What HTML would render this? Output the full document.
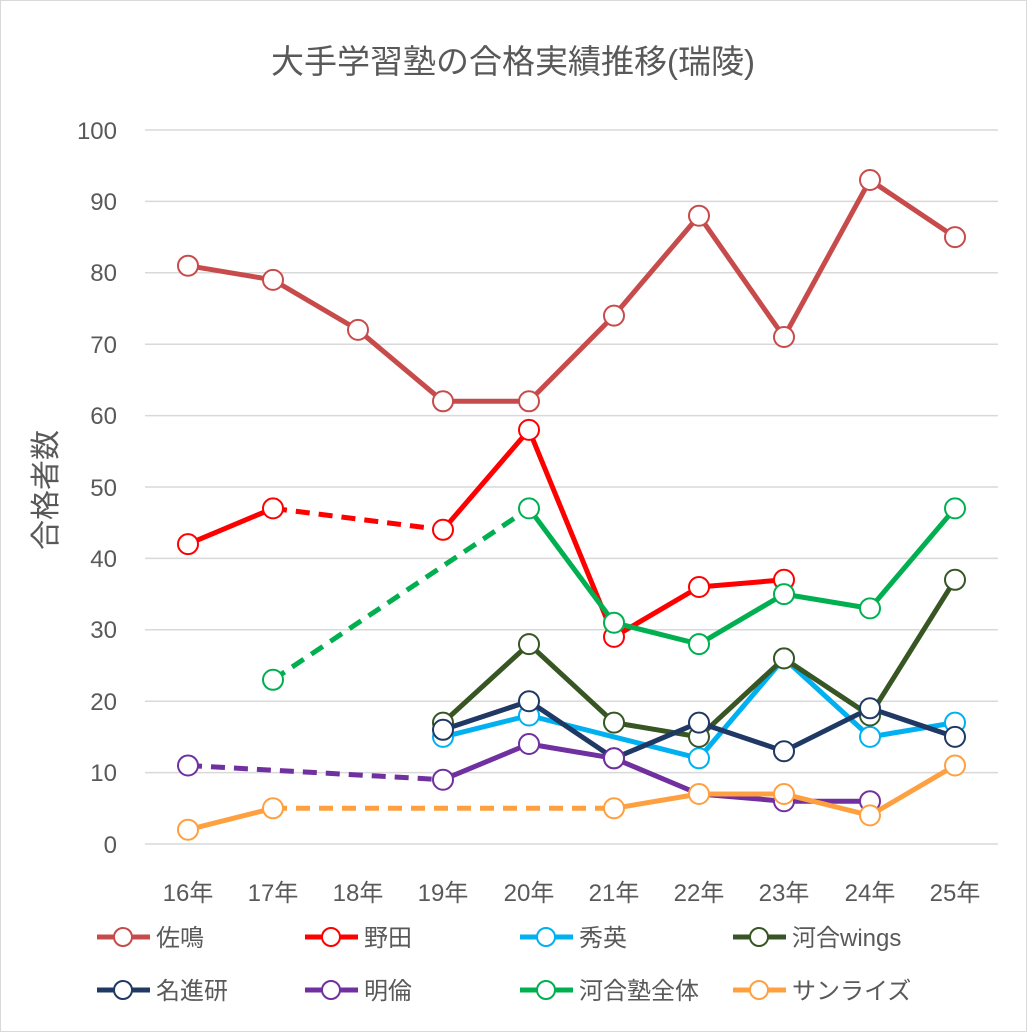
<!DOCTYPE html>
<html><head><meta charset="utf-8"><style>
html,body{margin:0;padding:0;background:#fff}
svg{display:block}
text{font-family:"Liberation Sans","Noto Sans CJK JP",sans-serif;fill:#595959}
</style></head><body>
<svg width="1027" height="1032" viewBox="0 0 1027 1032" xmlns="http://www.w3.org/2000/svg">
<rect x="0.5" y="0.5" width="1026" height="1031" fill="#fff" stroke="#d9d9d9"/>
<text x="513" y="73" font-size="33" text-anchor="middle">大手学習塾の合格実績推移(瑞陵)</text>
<g stroke="#d9d9d9" stroke-width="1.5">
<line x1="145" x2="998" y1="130" y2="130"/><line x1="145" x2="998" y1="201.4" y2="201.4"/>
<line x1="145" x2="998" y1="272.8" y2="272.8"/><line x1="145" x2="998" y1="344.2" y2="344.2"/>
<line x1="145" x2="998" y1="415.6" y2="415.6"/><line x1="145" x2="998" y1="487" y2="487"/>
<line x1="145" x2="998" y1="558.4" y2="558.4"/><line x1="145" x2="998" y1="629.8" y2="629.8"/>
<line x1="145" x2="998" y1="701.2" y2="701.2"/><line x1="145" x2="998" y1="772.6" y2="772.6"/>
<line x1="145" x2="998" y1="844" y2="844"/>
</g>
<g font-size="24" text-anchor="end">
<text x="117" y="139">100</text><text x="117" y="210">90</text><text x="117" y="281">80</text>
<text x="117" y="353">70</text><text x="117" y="424">60</text><text x="117" y="496">50</text>
<text x="117" y="567">40</text><text x="117" y="638">30</text><text x="117" y="710">20</text>
<text x="117" y="781">10</text><text x="117" y="853">0</text>
</g>
<text transform="translate(56,490) rotate(-90)" font-size="30" text-anchor="middle">合格者数</text>
<g font-size="24" text-anchor="middle">
<text x="188" y="901">16年</text><text x="273" y="901">17年</text><text x="358" y="901">18年</text>
<text x="443" y="901">19年</text><text x="529" y="901">20年</text><text x="614" y="901">21年</text>
<text x="699" y="901">22年</text><text x="784" y="901">23年</text><text x="870" y="901">24年</text>
<text x="955" y="901">25年</text>
</g>
<g stroke-linejoin="round">
<!-- 佐鳴 -->
<polyline fill="none" stroke-width="5" stroke="#c84b4b" points="188,265.7 273,279.9 358,329.9 443,401.3 529,401.3 614,315.6 699,215.7 784,337 870,180 955,237.1"/>
<g fill="#fff" stroke-width="2" stroke="#c84b4b"><circle cx="188" cy="265.7" r="10"/><circle cx="273" cy="279.9" r="10"/><circle cx="358" cy="329.9" r="10"/><circle cx="443" cy="401.3" r="10"/><circle cx="529" cy="401.3" r="10"/><circle cx="614" cy="315.6" r="10"/><circle cx="699" cy="215.7" r="10"/><circle cx="784" cy="337" r="10"/><circle cx="870" cy="180" r="10"/><circle cx="955" cy="237.1" r="10"/></g>
<!-- 野田 -->
<polyline fill="none" stroke-width="5" stroke="#ff0000" points="188,544.1 273,508.4"/>
<polyline fill="none" stroke-width="5" stroke="#ff0000" stroke-dasharray="14,9" points="273,508.4 443,529.8"/>
<polyline fill="none" stroke-width="5" stroke="#ff0000" points="443,529.8 529,429.9 614,636.9 699,587 784,579.8"/>
<g fill="#fff" stroke-width="2" stroke="#ff0000"><circle cx="188" cy="544.1" r="10"/><circle cx="273" cy="508.4" r="10"/><circle cx="443" cy="529.8" r="10"/><circle cx="529" cy="429.9" r="10"/><circle cx="614" cy="636.9" r="10"/><circle cx="699" cy="587" r="10"/><circle cx="784" cy="579.8" r="10"/></g>
<!-- 秀英 -->
<polyline fill="none" stroke-width="5" stroke="#00b0f0" points="443,736.9 529,715.5 614,736.9 699,758.3 784,658.4 870,736.9 955,722.6"/>
<g fill="#fff" stroke-width="2" stroke="#00b0f0"><circle cx="443" cy="736.9" r="10"/><circle cx="529" cy="715.5" r="10"/><circle cx="699" cy="758.3" r="10"/><circle cx="784" cy="658.4" r="10"/><circle cx="870" cy="736.9" r="10"/><circle cx="955" cy="722.6" r="10"/></g>
<!-- wings -->
<polyline fill="none" stroke-width="5" stroke="#375623" points="443,722.6 529,644.1 614,722.6 699,736.9 784,658.4 870,715.5 955,579.8"/>
<g fill="#fff" stroke-width="2" stroke="#375623"><circle cx="443" cy="722.6" r="10"/><circle cx="529" cy="644.1" r="10"/><circle cx="614" cy="722.6" r="10"/><circle cx="699" cy="736.9" r="10"/><circle cx="784" cy="658.4" r="10"/><circle cx="870" cy="715.5" r="10"/><circle cx="955" cy="579.8" r="10"/></g>
<!-- 名進研 -->
<polyline fill="none" stroke-width="5" stroke="#1f3864" points="443,729.8 529,701.2 614,758.3 699,722.6 784,751.2 870,708.3 955,736.9"/>
<g fill="#fff" stroke-width="2" stroke="#1f3864"><circle cx="443" cy="729.8" r="10"/><circle cx="529" cy="701.2" r="10"/><circle cx="614" cy="758.3" r="10"/><circle cx="699" cy="722.6" r="10"/><circle cx="784" cy="751.2" r="10"/><circle cx="870" cy="708.3" r="10"/><circle cx="955" cy="736.9" r="10"/></g>
<!-- 明倫 -->
<polyline fill="none" stroke-width="5" stroke="#7030a0" stroke-dasharray="14,9" points="188,765.5 443,779.7"/>
<polyline fill="none" stroke-width="5" stroke="#7030a0" points="443,779.7 529,744 614,758.3 699,794 784,801.2 870,801.2"/>
<g fill="#fff" stroke-width="2" stroke="#7030a0"><circle cx="188" cy="765.5" r="10"/><circle cx="443" cy="779.7" r="10"/><circle cx="529" cy="744" r="10"/><circle cx="614" cy="758.3" r="10"/><circle cx="784" cy="801.2" r="10"/><circle cx="870" cy="801.2" r="10"/></g>
<!-- 河合塾全体 -->
<polyline fill="none" stroke-width="5" stroke="#00b050" stroke-dasharray="14,9" points="273,679.8 529,508.4"/>
<polyline fill="none" stroke-width="5" stroke="#00b050" points="529,508.4 614,622.7 699,644.1 784,594.1 870,608.4 955,508.4"/>
<g fill="#fff" stroke-width="2" stroke="#00b050"><circle cx="273" cy="679.8" r="10"/><circle cx="529" cy="508.4" r="10"/><circle cx="614" cy="622.7" r="10"/><circle cx="699" cy="644.1" r="10"/><circle cx="784" cy="594.1" r="10"/><circle cx="870" cy="608.4" r="10"/><circle cx="955" cy="508.4" r="10"/></g>
<!-- サンライズ -->
<polyline fill="none" stroke-width="5" stroke="#ffa040" points="188,829.7 273,808.3"/>
<polyline fill="none" stroke-width="5" stroke="#ffa040" stroke-dasharray="14,9" points="273,808.3 614,808.3"/>
<polyline fill="none" stroke-width="5" stroke="#ffa040" points="614,808.3 699,794 784,794 870,815.4 955,765.5"/>
<g fill="#fff" stroke-width="2" stroke="#ffa040"><circle cx="188" cy="829.7" r="10"/><circle cx="273" cy="808.3" r="10"/><circle cx="614" cy="808.3" r="10"/><circle cx="699" cy="794" r="10"/><circle cx="784" cy="794" r="10"/><circle cx="870" cy="815.4" r="10"/><circle cx="955" cy="765.5" r="10"/></g>
</g>
<!-- legend -->
<g stroke-width="5" fill="#fff">
<line x1="97" x2="150" y1="937" y2="937" stroke="#c84b4b"/><circle cx="123" cy="937" r="9" stroke="#c84b4b" stroke-width="2"/>
<line x1="305" x2="358" y1="937" y2="937" stroke="#ff0000"/><circle cx="331" cy="937" r="9" stroke="#ff0000" stroke-width="2"/>
<line x1="520" x2="573" y1="937" y2="937" stroke="#00b0f0"/><circle cx="546" cy="937" r="9" stroke="#00b0f0" stroke-width="2"/>
<line x1="733" x2="786" y1="937" y2="937" stroke="#375623"/><circle cx="759" cy="937" r="9" stroke="#375623" stroke-width="2"/>
<line x1="97" x2="150" y1="990" y2="990" stroke="#1f3864"/><circle cx="123" cy="990" r="9" stroke="#1f3864" stroke-width="2"/>
<line x1="305" x2="358" y1="990" y2="990" stroke="#7030a0"/><circle cx="331" cy="990" r="9" stroke="#7030a0" stroke-width="2"/>
<line x1="520" x2="573" y1="990" y2="990" stroke="#00b050"/><circle cx="546" cy="990" r="9" stroke="#00b050" stroke-width="2"/>
<line x1="733" x2="786" y1="990" y2="990" stroke="#ffa040"/><circle cx="759" cy="990" r="9" stroke="#ffa040" stroke-width="2"/>
</g>
<g font-size="24">
<text x="156" y="946">佐鳴</text><text x="364" y="946">野田</text><text x="579" y="946">秀英</text><text x="792" y="946">河合wings</text>
<text x="156" y="999">名進研</text><text x="364" y="999">明倫</text><text x="579" y="999">河合塾全体</text><text x="792" y="999">サンライズ</text>
</g>
</svg>
</body></html>
